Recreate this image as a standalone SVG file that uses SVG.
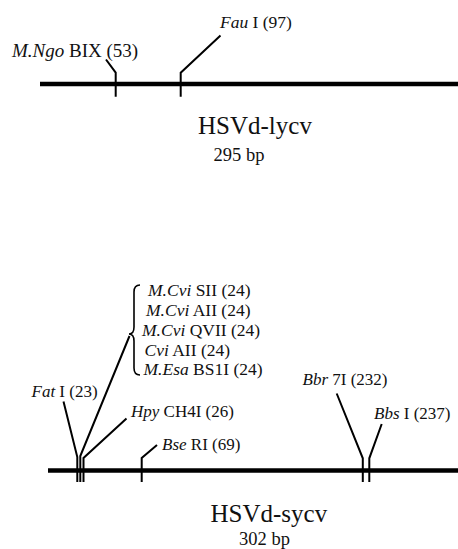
<svg xmlns="http://www.w3.org/2000/svg" width="458" height="549" viewBox="0 0 458 549">
<style>
text{font-family:"Liberation Serif","Times New Roman",serif;fill:#111}
.lb{font-size:17px}
.ls{font-size:17.5px}
.it{font-style:italic}
.ttl{font-size:25px}
.bp{font-size:18.5px}
.main{stroke:#000;stroke-width:4.5;fill:none}
.ln{stroke:#000;stroke-width:2;fill:none}
.br{stroke:#000;stroke-width:1.6;fill:none}
</style>
<rect width="458" height="549" fill="#fff"/>
<g id="map-lycv">
<line class="main" x1="40" y1="84" x2="458" y2="84"/>
<text class="ttl" x="198" y="134">HSVd-lycv</text>
<text class="bp" x="213.5" y="161">295 bp</text>
</g>
<g id="site-MNgoBIX"><text class="lb" x="12" y="56.5" style="font-size:19px"><tspan class="it">M.Ngo</tspan> BIX (53)</text></g>
<g id="site-FauI"><text class="lb" x="220" y="28" style="font-size:17.5px"><tspan class="it">Fau</tspan> I (97)</text></g>
<g id="map-sycv">
<line class="main" x1="48" y1="470.5" x2="458" y2="470.5"/>
<text class="ttl" x="210.5" y="521.5">HSVd-sycv</text>
<text class="bp" x="239" y="544.5">302 bp</text>
</g>
<g id="site-FatI"><text class="lb" x="31.5" y="396.5"><tspan class="it">Fat</tspan> I (23)</text></g>
<g id="site-group24">
<path class="br" d="M140,285 Q134,285 134,292 L134,327 Q134,334 129,334 Q134,334 134,341 L134,368 Q134,375 140,375"/>
<text class="ls" x="148" y="296"><tspan class="it">M.Cvi</tspan> SII (24)</text>
<text class="ls" x="146" y="315.5"><tspan class="it">M.Cvi</tspan> AII (24)</text>
<text class="ls" x="142" y="335.5"><tspan class="it">M.Cvi</tspan> QVII (24)</text>
<text class="ls" x="144.5" y="355.5"><tspan class="it">Cvi</tspan> AII (24)</text>
<text class="ls" x="143.5" y="374.5"><tspan class="it">M.Esa</tspan> BS1I (24)</text>
</g>
<g id="site-HpyCH4I"><text class="lb" x="131" y="416.5"><tspan class="it">Hpy</tspan> CH4I (26)</text></g>
<g id="site-BseRI"><text class="lb" x="162" y="450"><tspan class="it">Bse</tspan> RI (69)</text></g>
<g id="site-Bbr7I"><text class="lb" x="302.5" y="385"><tspan class="it">Bbr</tspan> 7I (232)</text></g>
<g id="site-BbsI"><text class="lb" x="374" y="418.5"><tspan class="it">Bbs</tspan> I (237)</text></g>
<g id="connectors">
<polyline class="ln" points="106,59.5 115.7,72.7 115.7,96.7"/>
<polyline class="ln" points="220.5,35.5 180.7,72.7 180.7,96.7"/>
<polyline class="ln" points="63.5,401.5 77.3,457 77.3,482"/>
<polyline class="ln" points="129.5,336 80.3,456 80.3,482"/>
<polyline class="ln" points="126.5,418.5 83.5,458 83.5,482"/>
<polyline class="ln" points="157,445 141.7,458 141.7,482"/>
<polyline class="ln" points="336.7,393.5 362.8,458.3 362.8,482"/>
<polyline class="ln" points="381.7,424 369.3,458.3 369.3,482"/>
</g>
</svg>
